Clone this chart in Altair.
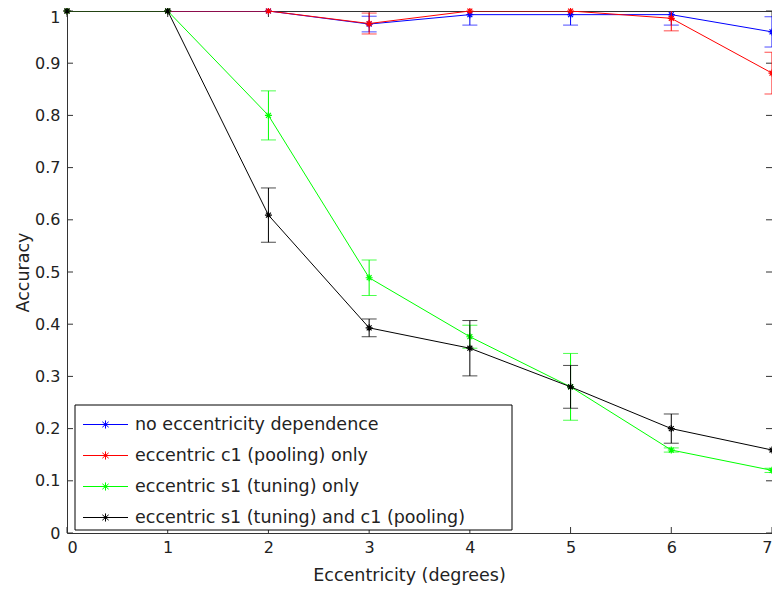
import altair as alt
import pandas as pd

ecc = [0, 1, 2, 3, 4, 5, 6, 7]
series_names = [
    "no eccentricity dependence",
    "eccentric c1 (pooling) only",
    "eccentric s1 (tuning) only",
    "eccentric s1 (tuning) and c1 (pooling)",
]
series_colors = ["#0000ff", "#ff0000", "#00ff00", "#000000"]

acc_none = [1, 1, 1, 0.975, 0.993, 0.993, 0.993, 0.96]
err_none = [0, 0, 0, 0.015, 0.02, 0.02, 0.02, 0.029]
acc_c1 = [1, 1, 1, 0.976, 1, 1, 0.986, 0.881]
err_c1 = [0, 0, 0, 0.02, 0, 0, 0.024, 0.04]
acc_s1 = [1, 1, 0.80, 0.489, 0.376, 0.28, 0.159, 0.12]
err_s1 = [0, 0, 0.047, 0.034, 0.022, 0.064, 0.004, 0.004]
acc_both = [1, 1, 0.609, 0.393, 0.354, 0.28, 0.2, 0.159]
err_both = [0, 0, 0.052, 0.017, 0.053, 0.041, 0.028, 0]

x_ticks = [0, 1, 2, 3, 4, 5, 6, 7]
y_ticks = [0, 0.1, 0.2, 0.3, 0.4, 0.5, 0.6, 0.7, 0.8, 0.9, 1]

accs = [acc_none, acc_c1, acc_s1, acc_both]
errs = [err_none, err_c1, err_s1, err_both]

rows = []
for name, acc, err in zip(series_names, accs, errs):
    for x, a, e in zip(ecc, acc, err):
        rows.append(dict(series=name, x=x, y=a, lo=a - e, hi=a + e, err=e))
df = pd.DataFrame(rows)

FONT = "DejaVu Sans"
AXC = "#333333"
TXT = "#222222"
W, H = 705, 522

xscale = alt.Scale(domain=[0, 7], nice=False, zero=False)
yscale = alt.Scale(domain=[0, 1], nice=False, zero=False)
xaxis = alt.Axis(values=x_ticks, format="~g", ticks=False, domain=False, grid=False,
                 labelPadding=6, title="Eccentricity (degrees)", titlePadding=11,
                 titleX=342, titleAlign="center")
yaxis = alt.Axis(values=y_ticks, format="~g", ticks=False, domain=False, grid=False,
                 labelPadding=7, title="Accuracy", titlePadding=2,
                 labelOffset={"condition": {"test": "datum.value == 1", "value": 6}, "value": 0})


def xc(field):
    return alt.X(f"{field}:Q", scale=xscale, axis=xaxis)


def yc(field):
    return alt.Y(f"{field}:Q", scale=yscale, axis=yaxis)


asterisk = "M0,-1V1M-1,0H1M-0.7,-0.7L0.7,0.7M-0.7,0.7L0.7,-0.7"
legend_sym = "M-2.5,0H2.5M0,-0.45V0.45M-0.35,-0.3L0.35,0.3M-0.35,0.3L0.35,-0.3"

cscale = alt.Scale(domain=series_names, range=series_colors)
legend = alt.Legend(
    orient="none", legendX=16, legendY=404, title=None,
    symbolType=legend_sym, symbolSize=324, symbolStrokeWidth=1,
    symbolOffset=13, labelOffset=20, rowPadding=13,
    labelFont=FONT, labelFontSize=17.5, labelColor=TXT, labelLimit=600, padding=0,
)

layers = []
for name in series_names:
    sub = alt.Chart(df).transform_filter(alt.datum.series == name)
    line = sub.mark_line(strokeWidth=1, clip=True).encode(
        x=xc("x"), y=yc("y"), color=alt.Color("series:N", scale=cscale, legend=legend))
    bars = sub.transform_filter(alt.datum.err > 0).mark_rule(strokeWidth=1, clip=True).encode(
        x=xc("x"), y=yc("lo"), y2="hi:Q", color=alt.Color("series:N", scale=cscale, legend=None))
    cap_lo = sub.transform_filter(alt.datum.err > 0).mark_tick(
        size=15, thickness=1, orient="horizontal", clip=True).encode(
        x=xc("x"), y=yc("lo"), color=alt.Color("series:N", scale=cscale, legend=None))
    cap_hi = sub.transform_filter(alt.datum.err > 0).mark_tick(
        size=15, thickness=1, orient="horizontal", clip=True).encode(
        x=xc("x"), y=yc("hi"), color=alt.Color("series:N", scale=cscale, legend=None))
    pts = sub.mark_point(shape=asterisk, size=49, filled=False, strokeWidth=1.2, opacity=1).encode(
        x=xc("x"), y=yc("y"), color=alt.Color("series:N", scale=cscale, legend=None))
    layers += [line, bars, cap_lo, cap_hi, pts]

tx = pd.DataFrame({"x": x_ticks})
ty = pd.DataFrame({"y": y_ticks})
tick_bottom = alt.Chart(tx).mark_rule(color=AXC, strokeWidth=1).encode(
    x=xc("x"), y=alt.value(H - 6), y2=alt.value(H))
tick_top = alt.Chart(tx).mark_rule(color=AXC, strokeWidth=1).encode(
    x=xc("x"), y=alt.value(0), y2=alt.value(6))
tick_left = alt.Chart(ty).mark_rule(color=AXC, strokeWidth=1).encode(
    y=yc("y"), x=alt.value(0), x2=alt.value(6))
tick_right = alt.Chart(ty).mark_rule(color=AXC, strokeWidth=1).encode(
    y=yc("y"), x=alt.value(W - 6), x2=alt.value(W))

box = alt.Chart(pd.DataFrame({"k": [0]})).mark_rect(
    fill="white", stroke="black", strokeWidth=1).encode(
    x=alt.value(8), x2=alt.value(445), y=alt.value(394), y2=alt.value(519))

chart = alt.layer(tick_bottom, tick_top, tick_left, tick_right, *layers, box).properties(
    width=W, height=H,
    padding={"left": 59, "top": 3, "right": 0, "bottom": 53},
    autosize=alt.AutoSizeParams(type="none"),
    background="white",
).configure_view(stroke=AXC, strokeWidth=1).configure_axis(
    labelFont=FONT, labelFontSize=16, labelColor=TXT,
    titleFont=FONT, titleFontSize=17.5, titleFontWeight="normal", titleColor=TXT,
)

chart.save("out.html", embed_options={"renderer": "svg", "actions": False})
